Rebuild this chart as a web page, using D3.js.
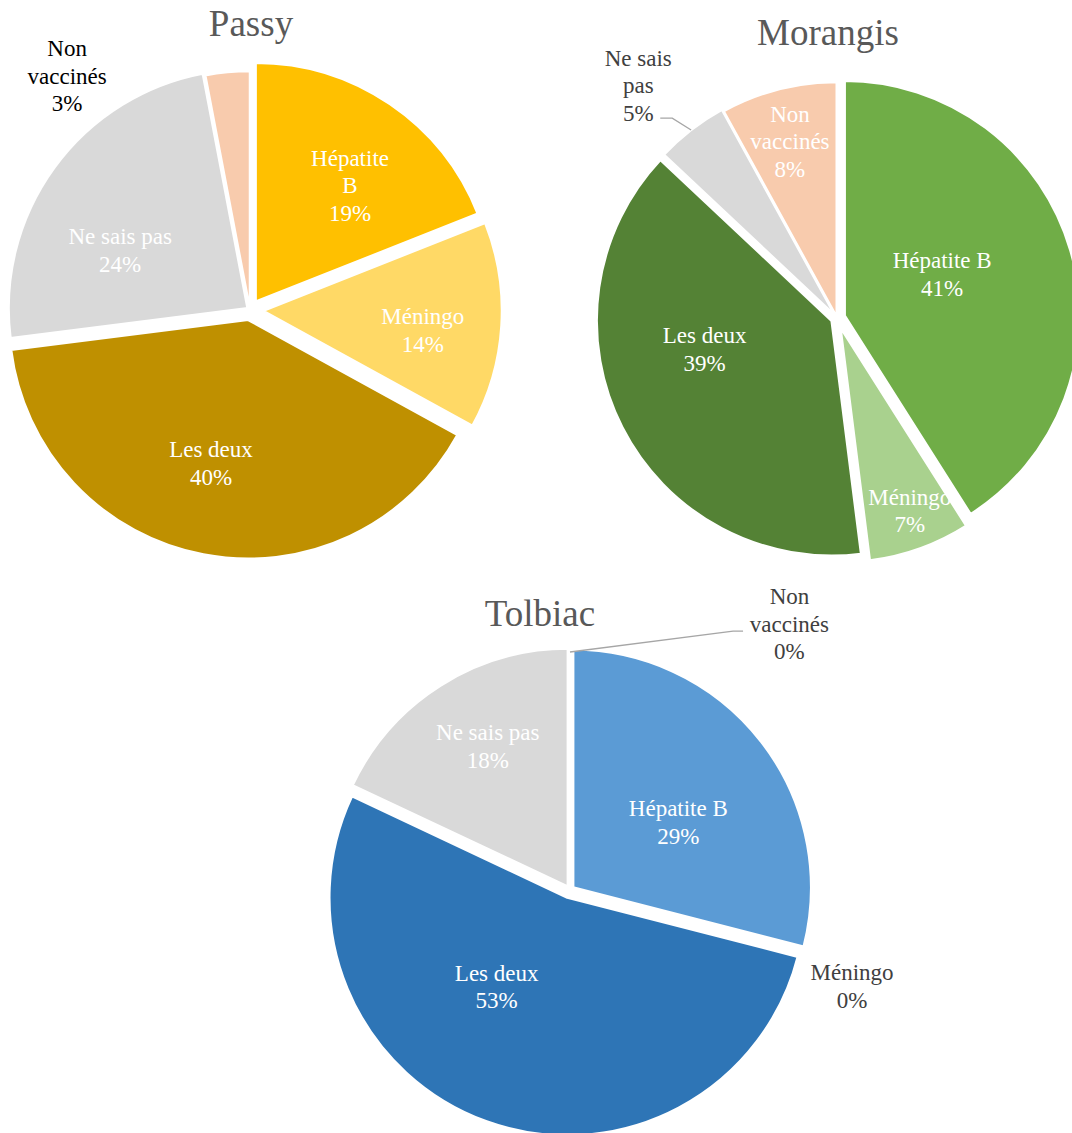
<!DOCTYPE html>
<html>
<head>
<meta charset="utf-8">
<script src="https://cdn.jsdelivr.net/npm/d3@7"></script>
<style>
  body { margin: 0; background: #fff; overflow: hidden; }
  svg text, svg tspan { font-family: "Liberation Serif", "Times New Roman", serif; }
</style>
</head>
<body>
<script>
// categories, same order for the three sites (clockwise from 12 o'clock)
const categories = ["Hépatite B", "Méningo", "Les deux", "Ne sais pas", "Non vaccinés"];

// percentages per site
const passyValues = [19, 14, 40, 24, 3];
const morangisValues = [41, 7, 39, 5, 8];
const tolbiacValues = [29, 0, 53, 18, 0];

// slice colours
const passyColors = ["#FFC000", "#FFD966", "#BF9000", "#D9D9D9", "#F8CBAD"];
const morangisColors = ["#70AD47", "#A9D18E", "#548235", "#D9D9D9", "#F8CBAD"];
const tolbiacColors = ["#5B9BD5", "#9DC3E6", "#2E75B6", "#D9D9D9", "#F8CBAD"];

// how each label wraps in the original
const passyLines = [["Hépatite", "B"], ["Méningo"], ["Les deux"], ["Ne sais pas"], ["Non", "vaccinés"]];
const morangisLines = [["Hépatite B"], ["Méningo"], ["Les deux"], ["Ne sais", "pas"], ["Non", "vaccinés"]];
const tolbiacLines = [["Hépatite B"], ["Méningo"], ["Les deux"], ["Ne sais pas"], ["Non", "vaccinés"]];

// layout of each pie: centre, radius, explosion per slice, label polar position [deg, px]
const charts = [
  { title: "Passy", values: passyValues, colors: passyColors, lines: passyLines,
    cx: 250, cy: 310, r: 239, titleX: 251, titleY: 36,
    explode: [10, 13, 10, 3, 0],
    labelPos: [[38.7, 160], [96.6, 174], [194.3, 158], [294.8, 143], [322, 297]],
    outside: [false, false, false, false, true], outsideColor: "#000000",
    leaders: [] },
  { title: "Morangis", values: morangisValues, colors: morangisColors, lines: morangisLines,
    cx: 837, cy: 318, r: 235, titleX: 828, titleY: 45,
    explode: [8, 10, 6, 3, 1],
    labelPos: [[67.3, 114], [159.3, 206], [256.8, 136], [319.5, 306], [345.1, 183]],
    outside: [false, false, false, true, false], outsideColor: "#404040",
    leaders: [{ index: 3, knee: [320.5, 259], tail: -12 }] },
  { title: "Tolbiac", values: tolbiacValues, colors: tolbiacColors, lines: tolbiacLines,
    cx: 570, cy: 890, r: 238, titleX: 540, titleY: 626,
    explode: [4, 0, 8, 4, 0],
    labelPos: [[57.8, 128], [108.8, 298], [217.3, 121], [330.3, 166], [39.5, 345]],
    outside: [false, true, false, false, true], outsideColor: "#404040",
    leaders: [{ index: 4, knee: [32.2, 306], tail: 10 }] }
];

const width = 1072, height = 1133;
const fontSize = 23, lineH = 27.5;
const serif = "'Liberation Serif', 'Times New Roman', serif";

const svg = d3.select("body").append("svg")
  .attr("width", width)
  .attr("height", height);

// angle in degrees clockwise from top -> x,y
function polar(deg, r) {
  const a = deg * Math.PI / 180;
  return [r * Math.sin(a), -r * Math.cos(a)];
}

charts.forEach(c => {
  const pie = d3.pie().sort(null).value(d => d);
  const arcs = pie(c.values);
  const arc = d3.arc().innerRadius(0).outerRadius(c.r);

  const offset = d => {
    const m = (d.startAngle + d.endAngle) / 2;
    const e = c.explode[d.index];
    return [Math.sin(m) * e, -Math.cos(m) * e];
  };

  const g = svg.append("g").attr("transform", `translate(${c.cx},${c.cy})`);

  //slices (zero values have no area so they are skipped)
  g.selectAll("path.slice")
    .data(arcs.filter(d => d.value > 0))
    .join("path")
    .attr("class", "slice")
    .attr("transform", d => `translate(${offset(d)})`)
    .attr("d", arc)
    .attr("fill", d => c.colors[d.index])
    .attr("stroke", "#fff")
    .attr("stroke-width", 2.5)
    .attr("stroke-linejoin", "round");

  //leader lines for the labels put outside
  c.leaders.forEach(l => {
    const d = arcs[l.index];
    const m = (d.startAngle + d.endAngle) / 2 * 180 / Math.PI;
    const o = offset(d);
    const p0 = polar(m, c.r);
    const start = [p0[0] + o[0], p0[1] + o[1]];
    const knee = polar(l.knee[0], l.knee[1]);
    const end = [knee[0] + l.tail, knee[1]];
    g.append("path")
      .attr("d", d3.line()([start, knee, end]))
      .attr("fill", "none")
      .attr("stroke", "#A6A6A6")
      .attr("stroke-width", 1.3);
  });

  //data labels
  arcs.forEach(d => {
    const i = d.index;
    const p = polar(c.labelPos[i][0], c.labelPos[i][1]);
    const lines = c.lines[i].concat([d.value + "%"]);
    const t = g.append("text")
      .attr("text-anchor", "middle")
      .attr("font-family", serif)
      .attr("font-size", fontSize)
      .attr("fill", c.outside[i] ? c.outsideColor : "#ffffff");
    const y0 = p[1] - (lines.length - 1) / 2 * lineH + 8;
    lines.forEach((s, k) => {
      t.append("tspan")
        .attr("x", p[0])
        .attr("y", y0 + k * lineH)
        .attr("font-family", serif)
        .text(s);
    });
  });

  //title
  svg.append("text")
    .attr("x", c.titleX)
    .attr("y", c.titleY)
    .attr("text-anchor", "middle")
    .attr("font-family", serif)
    .attr("font-size", 37)
    .attr("fill", "#595959")
    .text(c.title);
});
</script>
</body>
</html>
